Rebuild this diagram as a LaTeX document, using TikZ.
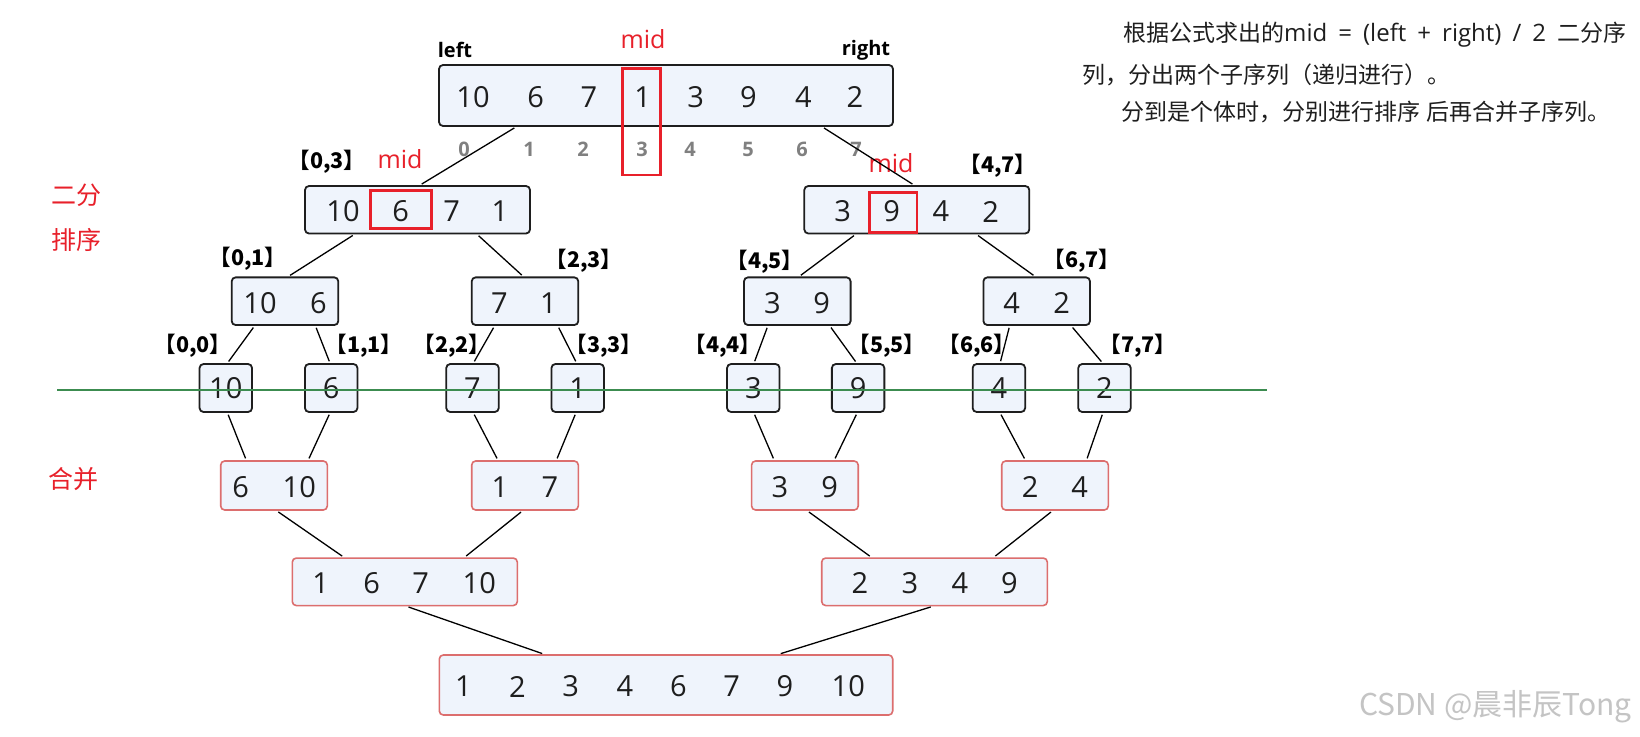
\documentclass[tikz,border=0pt]{standalone}
\usepackage{fontspec}
\setmainfont{Open Sans}
\newfontfamily\cjk{Noto Sans CJK SC}
\usetikzlibrary{calc}
\definecolor{boxfill}{HTML}{EFF4FC}
\definecolor{hired}{HTML}{E8202A}
\definecolor{mergered}{HTML}{DC6E6E}
\definecolor{gline}{HTML}{3C8C50}
\definecolor{idxgray}{HTML}{808080}
\definecolor{ink}{HTML}{1E1E1E}
\definecolor{wmgray}{HTML}{C4C4C4}
\newcommand\lnk[4]{\draw[conn] ($(#1.south west)!#2!(#1.south east)$) -- ($(#3.north west)!#4!(#3.north east)$);}
\begin{document}
\begin{tikzpicture}[x=1pt,y=-1pt,
  wh/.style 2 args={minimum width=#1pt,minimum height=#2pt},
  bbox/.style={draw=ink,line width=1.8pt,rounded corners=4pt,fill=boxfill,inner sep=0pt},
  mbox/.style={draw=mergered,line width=1.6pt,rounded corners=4pt,fill=boxfill,inner sep=0pt},
  hl/.style={draw=hired,line width=2.8pt,inner sep=0pt},
  num/.style={font=\fontsize{29}{29}\selectfont,text=ink,inner sep=0pt},
  idx/.style={font=\fontsize{20}{20}\selectfont\bfseries,text=idxgray,inner sep=0pt},
  rng/.style={font=\cjk\fontsize{21.5}{21.5}\selectfont\bfseries,text=black,inner sep=0pt},
  endlbl/.style={font=\fontsize{20}{20}\selectfont\bfseries,text=black,inner sep=0pt},
  midlbl/.style={font=\fontsize{25}{25}\selectfont,text=hired,inner sep=0pt},
  conn/.style={line width=1.3pt,draw=black,shorten <=2pt,shorten >=2pt},
  side/.style={font=\cjk\fontsize{25}{25}\selectfont,text=hired,inner sep=0pt},
  note/.style={font=\fontsize{24}{24}\selectfont,text=ink,inner sep=0pt,anchor=west},
]
\useasboundingbox (0,0) rectangle (1640,736);
\fill[white] (0,0) rectangle (1640,736);

% ---------- top array ----------
\node[bbox,wh={454}{61}] (top) at (666,95.5) {};
\foreach \x/\v [count=\i] in {473/10,535.7/6,589/7,642.7/1,695.7/3,748.3/9,803.3/4,855/2}
  \node[num] (t\i) at (\x,97) {\v};
\foreach \x/\v [count=\i] in {464/0,529/1,583/2,642/3,690/4,748/5,802/6,856/7}
  \node[idx] (ix\i) at (\x,149) {\v};
\node[hl,wh={38}{106.7}] (hm0) at (641.7,121.6) {};
\node[midlbl] (mid0) at (643,39) {mid};
\node[endlbl] (lft) at (455,50) {left};
\node[endlbl] (rgt) at (866,50) {right};

% ---------- level 1 ----------
\node[bbox,wh={225}{47.5}] (A) at (417.5,209.75) {};
\foreach \x/\v [count=\i] in {343/10,400.7/6,451.7/7,500/1}
  \node[num] (a\i) at (\x,211.5) {\v};
\node[hl,wh={61}{37.6}] (hmA) at (401.2,209.5) {};
\node[bbox,wh={225}{47.5}] (B) at (916.8,209.75) {};
\foreach \x/\v [count=\i] in {842.7/3,891.7/9,941/4,990.7/2}
  \node[num] (b\i) at (\x,211.5) {\v};
\node[hl,wh={47.5}{39.6}] (hmB) at (893.2,212.5) {};
\node[midlbl] (midA) at (400,159) {mid};
\node[midlbl] (midB) at (891,163) {mid};
\node[rng] (r03) at (327,162) {【0,3】};
\node[rng] (r47) at (998,166) {【4,7】};

% ---------- level 2 ----------
\node[bbox,wh={106.6}{47.7}] (C) at (285,301.2) {};
\node[bbox,wh={106.6}{47.7}] (D) at (525,301.2) {};
\node[bbox,wh={106.6}{47.7}] (E) at (797.3,301.2) {};
\node[bbox,wh={106.6}{47.7}] (F) at (1036.7,301.2) {};
\node[num] (c1) at (260,303.3) {10};   \node[num] (c2) at (318.3,303.3) {6};
\node[num] (d1) at (499.3,303.3) {7};  \node[num] (d2) at (548.3,303.3) {1};
\node[num] (e1) at (772.3,303.3) {3};  \node[num] (e2) at (821.7,303.3) {9};
\node[num] (f1) at (1011.7,303.3) {4}; \node[num] (f2) at (1061.7,303.3) {2};
\node[rng] (r01) at (248,259) {【0,1】};
\node[rng] (r23) at (584,261) {【2,3】};
\node[rng] (r45) at (765,262) {【4,5】};
\node[rng] (r67) at (1082,261) {【6,7】};

% ---------- leaves ----------
\foreach \x/\v [count=\i from 0] in {225.8/10,331.2/6,472.5/7,577.7/1,753.3/3,858.1/9,998.9/4,1104.5/2}
  \node[bbox,wh={52.5}{48},font=\fontsize{29}{29}\selectfont,text=ink] (L\i) at (\x,388) {\v};
\foreach \x/\v [count=\i from 0] in {193/0,364/1,452/2,604/3,723/4,887/5,977/6,1138/7}
  \node[rng] (rl\i) at (\x,346) {【\v,\v】};

% ---------- merge level 1 ----------
\node[mbox,wh={106.6}{49}] (M0) at (274,485.5) {};
\node[mbox,wh={106.6}{49}] (M1) at (525,485.5) {};
\node[mbox,wh={106.6}{49}] (M2) at (804.9,485.5) {};
\node[mbox,wh={106.6}{49}] (M3) at (1055,485.5) {};
\node[num] (m01) at (240.7,487) {6};  \node[num] (m02) at (299.3,487) {10};
\node[num] (m11) at (500,487) {1};    \node[num] (m12) at (550,487) {7};
\node[num] (m21) at (779.8,487) {3};  \node[num] (m22) at (829.6,487) {9};
\node[num] (m31) at (1030.2,487) {2}; \node[num] (m32) at (1079.7,487) {4};

% ---------- merge level 2 ----------
\node[mbox,wh={225}{47.5}] (N0) at (404.8,581.8) {};
\node[mbox,wh={225.6}{47.5}] (N1) at (934.5,581.8) {};
\foreach \x/\v [count=\i] in {320.7/1,371.7/6,420.7/7,479.3/10}
  \node[num] (n0\i) at (\x,583) {\v};
\foreach \x/\v [count=\i] in {860/2,910/3,960/4,1009.3/9}
  \node[num] (n1\i) at (\x,583) {\v};

% ---------- final ----------
\node[mbox,wh={453.4}{60}] (fin) at (666,685) {};
\foreach \x/\v [count=\i] in {463.3/1,517.3/2,570.7/3,625/4,678.3/6,731.7/7,785/9,848.3/10}
  \node[num] (fn\i) at (\x,686.5) {\v};

% ---------- connectors ----------
\lnk{top}{0.171}{A}{0.511}
\lnk{top}{0.843}{B}{0.488}
\lnk{A}{0.222}{C}{0.531}
\lnk{A}{0.763}{D}{0.484}
\lnk{B}{0.230}{E}{0.518}
\lnk{B}{0.763}{F}{0.485}
\lnk{C}{0.219}{L0}{0.53}
\lnk{C}{0.781}{L1}{0.478}
\lnk{D}{0.219}{L2}{0.516}
\lnk{D}{0.803}{L3}{0.48}
\lnk{E}{0.228}{L4}{0.513}
\lnk{E}{0.80}{L5}{0.474}
\lnk{F}{0.25}{L6}{0.522}
\lnk{F}{0.819}{L7}{0.466}
\lnk{L0}{0.53}{M0}{0.244}
\lnk{L1}{0.478}{M0}{0.816}
\lnk{L2}{0.516}{M1}{0.25}
\lnk{L3}{0.467}{M1}{0.79}
\lnk{L4}{0.51}{M2}{0.216}
\lnk{L5}{0.483}{M2}{0.771}
\lnk{L6}{0.522}{M3}{0.226}
\lnk{L7}{0.47}{M3}{0.791}
\lnk{M0}{0.525}{N0}{0.231}
\lnk{M1}{0.478}{N0}{0.764}
\lnk{M2}{0.522}{N1}{0.222}
\lnk{M3}{0.477}{N1}{0.761}
\lnk{N0}{0.508}{fin}{0.232}
\lnk{N1}{0.492}{fin}{0.748}

% ---------- green divider ----------
\coordinate (g1) at (57,390);
\coordinate (g2) at (1267,390);
\draw[gline,line width=1.3pt] (g1) -- (g2);

% ---------- side labels ----------
\node[side] (s1) at (76,195) {二分};
\node[side] (s2) at (76,240) {排序};
\node[side] (s3) at (73,479) {合并};

% ---------- notes ----------
\node[note] (n1) at (1123,35) {\makebox[503pt][s]{{\cjk\fontsize{23}{23}\selectfont 根据公式求出的}mid = (left + right) / 2 {\cjk\fontsize{23}{23}\selectfont 二分序}}};
\node[note,font=\cjk\fontsize{23}{23}\selectfont] (n2) at (1082,75) {列，分出两个子序列（递归进行）。};
\node[note,font=\cjk\fontsize{23}{23}\selectfont] (n3) at (1121,112) {分到是个体时，分别进行排序\hspace{6pt}后再合并子序列。};

% ---------- watermark ----------
\node[font=\cjk\fontsize{30}{30}\selectfont,text=wmgray,inner sep=0pt,anchor=east] (wm) at (1632,707) {CSDN @晨非辰Tong};
\end{tikzpicture}
\end{document}
